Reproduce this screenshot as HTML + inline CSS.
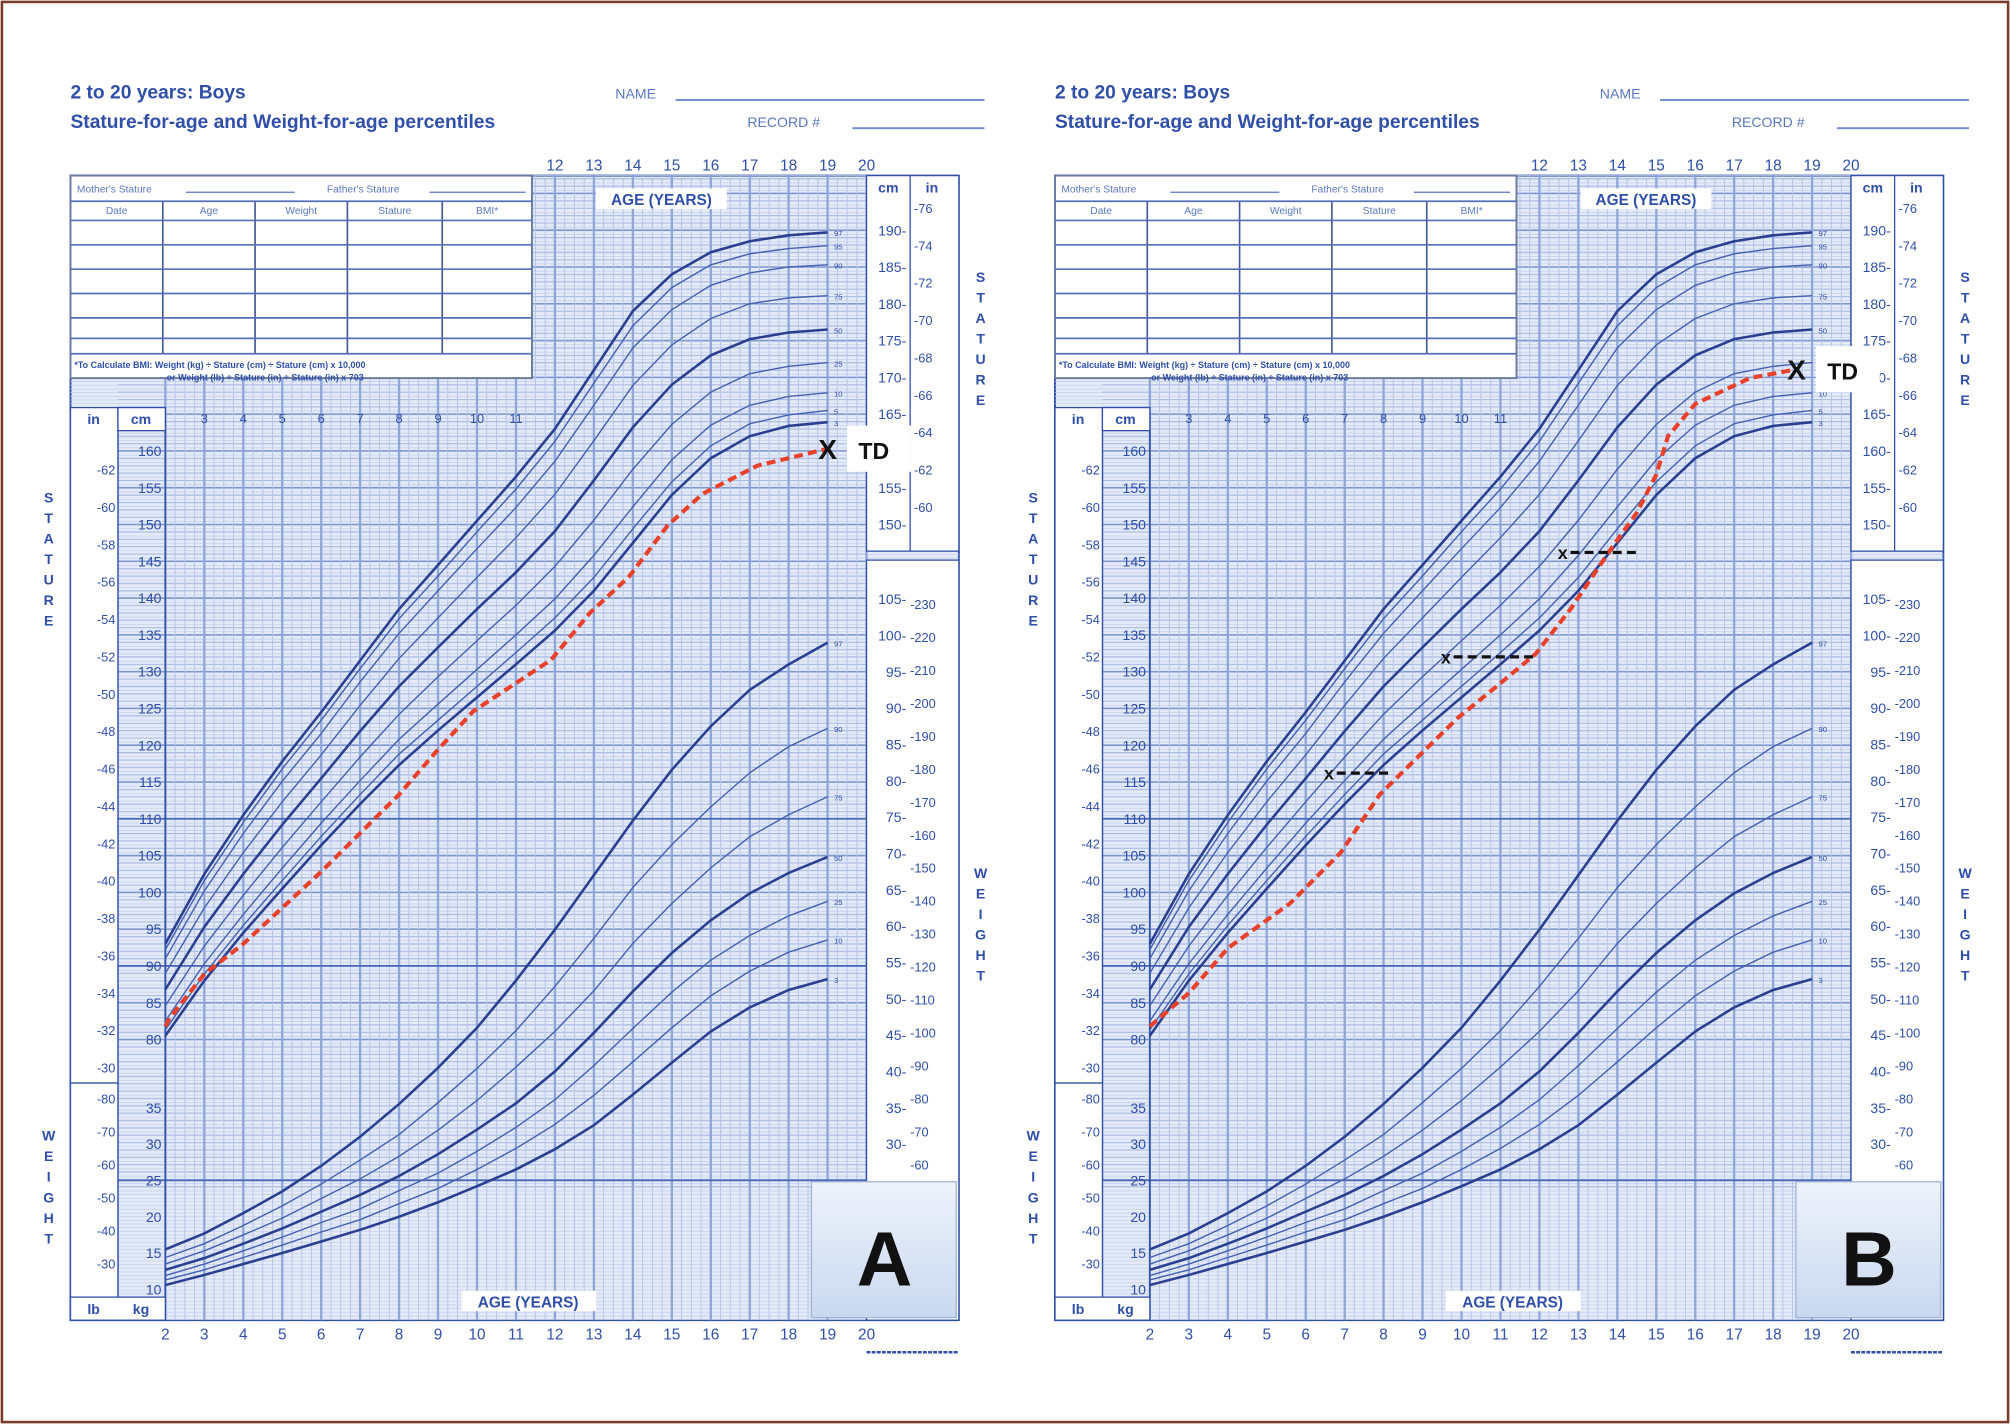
<!DOCTYPE html>
<html><head><meta charset="utf-8"><style>
html,body{margin:0;padding:0;background:#fff}
svg{display:block}
text{font-family:"Liberation Sans",sans-serif}
</style></head><body>
<svg id="chart" width="2010" height="1424" viewBox="0 0 1568 1111" preserveAspectRatio="none" xmlns="http://www.w3.org/2000/svg">
<rect x="1.5" y="1.5" width="1565" height="1108" fill="#fff" stroke="#7a3a2a" stroke-width="2"/>
<g id="root"></g>
</svg>
<script>
// ----- data -----
const ages=[2,3,4,5,6,7,8,9,10,11,12,13,14,15,16,17,18,19];
const staturePercentiles=[3,5,10,25,50,75,90,95,97];
const statP3=[80.5,88,94.5,100.5,106.4,112,117.3,122,126.5,131,135.6,141,147.5,154,159,162,163.4,163.9];
const statP5=[81.3,88.9,95.5,101.6,107.6,113.3,118.8,123.4,128,132.6,137.3,142.8,149.4,155.8,160.7,163.7,164.9,165.5];
const statP10=[82.5,90.3,97,103.3,109.4,115.2,120.8,125.6,130.3,135,139.9,145.8,152.4,158.8,163.5,166.2,167.4,167.9];
const statP25=[84.6,92.7,99.6,106.1,112.3,118.4,124.2,129.3,134.2,139,144.3,150.6,157.5,163.6,168,170.5,171.5,172];
const statP50=[86.8,95.3,102.5,109.2,115.5,121.9,128,133.3,138.5,143.5,149.1,156,163.2,169,173,175.2,176.1,176.5];
const statP75=[89,97.9,105.4,112.3,118.7,125.4,131.8,137.3,142.8,148.2,154.1,161.4,168.9,174.4,178,180,180.8,181.1];
const statP90=[91,100.2,108,115.1,121.6,128.6,135.2,141,146.7,152.3,158.6,166.2,174,179.2,182.5,184.2,185,185.3];
const statP95=[92.2,101.6,109.5,116.8,123.4,130.4,137.2,143,149,154.8,161.3,169.2,177,182.2,185.3,186.8,187.5,187.9];
const statP97=[93,102.5,110.5,117.8,124.5,131.5,138.5,144.5,150.5,156.5,163,171,179,184,187,188.5,189.3,189.7];
const weightPercentiles=[3,10,25,50,75,90,97];
const wtP3=[10.6,12,13.5,15,16.6,18.2,20,22,24.2,26.5,29.3,32.6,36.8,41.2,45.5,48.8,51.2,52.7];
const wtP10=[11.3,12.7,14.4,16.1,17.9,19.6,21.8,23.9,26.5,29.4,32.7,36.7,41.3,46,50.4,53.8,56.4,58.1];
const wtP25=[11.9,13.5,15.3,17.2,19.2,21.1,23.6,26,29,32.3,36.1,40.8,45.9,50.9,55.3,58.7,61.4,63.4];
const wtP50=[12.7,14.3,16.3,18.4,20.7,23,25.6,28.6,32,35.6,40,45.3,51,56.3,60.8,64.5,67.3,69.5];
const wtP75=[13.5,15.3,17.5,19.8,22.5,25.2,28.3,31.9,36,40.6,45.5,51.1,57.6,63.1,68,72.3,75.3,77.8];
const wtP90=[14.4,16.3,18.8,21.5,24.5,27.8,31.3,35.7,40.4,45.6,51.7,58.3,65.3,71.2,76.4,81.1,84.7,87.2];
const wtP97=[15.5,17.7,20.5,23.5,27,31,35.5,40.5,46,52.5,59.5,67,74.5,81.5,87.5,92.5,96,99];
const patientAAges=[2,2.1,3,4,6,8,9,9.9,11.9,12.9,13.9,14.9,15.8,17.2,19];
const patientAStature=[81.8,82.8,88.9,93,102.8,113.3,119.4,124.6,131.6,138,142.9,149.9,154.2,158,160.3];
const patientBAges=[2,3,4,5.6,6.9,7.9,8.9,9.9,10.9,11.9,12.8,13.8,14.5,15,15.3,16,17.4,18.6];
const patientBStature=[81.8,86.3,92.4,98.5,105.4,113.3,118.5,123.7,128,132.4,138.5,146.4,151.6,156.8,162,166.4,169.9,171.1];
const boneAgeFrom=[6.6,9.6,12.6];
const boneAgeTo=[8.2,11.9,14.5];
const boneAgeStature=[116.2,132,146.2];
const statTicksCm=[80,85,90,95,100,105,110,115,120,125,130,135,140,145,150,155,160];
const statTicksIn=[30,32,34,36,38,40,42,44,46,48,50,52,54,56,58,60,62];
const upperCm=[150,155,160,165,170,175,180,185,190];
const upperIn=[60,62,64,66,68,70,72,74,76];
const wtTicksKg=[30,35,40,45,50,55,60,65,70,75,80,85,90,95,100,105];
const wtTicksLb=[60,70,80,90,100,110,120,130,140,150,160,170,180,190,200,210,220,230];
const lowKg=[10,15,20,25,30,35];
const lowLb=[30,40,50,60,70,80];
const topAges=[12,13,14,15,16,17,18,19,20];
const bottomAges=[2,3,4,5,6,7,8,9,10,11,12,13,14,15,16,17,18,19,20];

const NS="http://www.w3.org/2000/svg";
const root=document.getElementById('root');
function el(tag,attrs,parent,txt){const e=document.createElementNS(NS,tag);for(const k in attrs)e.setAttribute(k,attrs[k]);if(txt!==undefined)e.textContent=txt;(parent||root).appendChild(e);return e;}
const BLUE="#2f4fa8",GRID="#8ea6d8",DARK="#2a3f8f";
function ageX(a,dx){return 129+dx+(a-2)*30.39;}
function cmY(c){return 811-(c-80)*5.74;}
function kgY(k){return 1006-(k-10)*5.67;}
function lbY(l){return kgY(l/2.2046);}
function inY(i){return cmY(i*2.54);}

function panel(dx,letter,patAges,patStat,showBone){
  const g=el('g',{},root);
  
  
  // titles
  const t1=el('text',{x:55+dx,y:77,fill:BLUE,'font-size':15,'font-weight':'bold'},g,'2 to 20 years: Boys');
  
  const t2=el('text',{x:55+dx,y:100,fill:BLUE,'font-size':15,'font-weight':'bold'},g,'Stature-for-age and Weight-for-age percentiles');
  
  el('text',{x:480+dx,y:77,fill:'#5a78c0','font-size':11},g,'NAME');
  const n=el('line',{x1:527+dx,y1:78,x2:768+dx,y2:78,stroke:'#6f8cd0','stroke-width':1.5},g);
  
  el('text',{x:583+dx,y:99,fill:'#5a78c0','font-size':11},g,'RECORD #');
  const r=el('line',{x1:665+dx,y1:100,x2:768+dx,y2:100,stroke:'#6f8cd0','stroke-width':1.5},g);
  
  // plot background
  el('rect',{x:55+dx,y:137,width:693,height:893,fill:'#e4eaf7',stroke:BLUE,'stroke-width':1.5},g);
  // fine horizontal grid
  let gl='';
  for(let y=137;y<=1030;y+=2.87){gl+=`M${55+dx} ${y.toFixed(1)}H${748+dx}`;}
  el('path',{d:gl,stroke:'#c5d2ee','stroke-width':0.6,fill:'none'},g);
  let gh='';
  for(let c=60;c<=200;c+=1){const y=cmY(c);if(y>137&&y<1030)gh+=`M${92+dx} ${y.toFixed(1)}H${676+dx}`;}
  el('path',{d:gh,stroke:'#a9bce4','stroke-width':0.7,fill:'none'},g);
  let g5='';
  for(let c=80;c<=200;c+=5){const y=cmY(c);if(y>137&&y<1030)g5+=`M${92+dx} ${y.toFixed(1)}H${676+dx}`;}
  el('path',{d:g5,stroke:'#7f97cf','stroke-width':1.2,fill:'none'},g);
  // vertical grid
  let gv='';
  for(let a=2;a<=20.01;a+=0.25){gv+=`M${ageX(a,dx).toFixed(1)} 137V1030`;}
  el('path',{d:gv,stroke:'#b3c3e8','stroke-width':0.7,fill:'none'},g);
  let gy='';
  for(let a=2;a<=20;a+=1){gy+=`M${ageX(a,dx).toFixed(1)} 137V1030`;}
  el('path',{d:gy,stroke:GRID,'stroke-width':1.8,fill:'none'},g);
  // heavy lines
  [110,90].forEach(c=>el('line',{x1:92+dx,x2:748+dx,y1:cmY(c),y2:cmY(c),stroke:'#4a68b8','stroke-width':1.4},g));
  el('line',{x1:55+dx,x2:676+dx,y1:kgY(25),y2:kgY(25),stroke:'#4a68b8','stroke-width':1.4},g);
  // left axis columns
  el('line',{x1:92+dx,x2:92+dx,y1:318,y2:1030,stroke:BLUE,'stroke-width':1.2},g);
  el('line',{x1:129+dx,x2:129+dx,y1:318,y2:1030,stroke:BLUE,'stroke-width':1.2},g);
  el('rect',{x:55+dx,y:318,width:37,height:527,fill:'#fff',stroke:BLUE,'stroke-width':1},g);
  el('rect',{x:55+dx,y:845,width:37,height:185,fill:'#fff',stroke:BLUE,'stroke-width':1},g);
  el('rect',{x:92+dx,y:318,width:37,height:18,fill:'#fff',stroke:BLUE,'stroke-width':1},g);
  el('rect',{x:55+dx,y:1012,width:74,height:18,fill:'#fff',stroke:BLUE,'stroke-width':1},g);
  el('text',{x:73+dx,y:331,'font-size':11,fill:BLUE,'text-anchor':'middle','font-weight':'bold'},g,'in');
  el('text',{x:110+dx,y:331,'font-size':11,fill:BLUE,'text-anchor':'middle','font-weight':'bold'},g,'cm');
  el('text',{x:73+dx,y:1025,'font-size':11,fill:BLUE,'text-anchor':'middle','font-weight':'bold'},g,'lb');
  el('text',{x:110+dx,y:1025,'font-size':11,fill:BLUE,'text-anchor':'middle','font-weight':'bold'},g,'kg');
  statTicksCm.forEach(c=>{el('text',{x:126+dx,y:cmY(c)+4,'font-size':11,fill:BLUE,'text-anchor':'end'},g,String(c));});
  statTicksIn.forEach(i=>{el('text',{x:90+dx,y:inY(i)+4,'font-size':10,fill:BLUE,'text-anchor':'end'},g,'-'+i);});
  lowKg.forEach(k=>{el('text',{x:126+dx,y:kgY(k)+4,'font-size':11,fill:BLUE,'text-anchor':'end'},g,String(k));});
  lowLb.forEach(l=>{el('text',{x:90+dx,y:lbY(l)+4,'font-size':10,fill:BLUE,'text-anchor':'end'},g,'-'+l);});
  'STATURE'.split('').forEach((ch,i)=>el('text',{x:38+dx,y:392+i*16,'font-size':11,'font-weight':'bold',fill:BLUE,'text-anchor':'middle'},g,ch));
  'WEIGHT'.split('').forEach((ch,i)=>el('text',{x:38+dx,y:890+i*16,'font-size':11,'font-weight':'bold',fill:BLUE,'text-anchor':'middle'},g,ch));
  // right columns
  el('rect',{x:676+dx,y:137,width:72,height:293,fill:'#fff',stroke:BLUE,'stroke-width':1},g);
  el('rect',{x:676+dx,y:437,width:72,height:593,fill:'#fff',stroke:BLUE,'stroke-width':1},g);
  el('line',{x1:710+dx,x2:710+dx,y1:137,y2:430,stroke:BLUE,'stroke-width':1},g);
  el('text',{x:693+dx,y:150,'font-size':11,'font-weight':'bold',fill:BLUE,'text-anchor':'middle'},g,'cm');
  el('text',{x:727+dx,y:150,'font-size':11,'font-weight':'bold',fill:BLUE,'text-anchor':'middle'},g,'in');
  upperCm.forEach(c=>el('text',{x:707+dx,y:cmY(c)+4,'font-size':11,fill:BLUE,'text-anchor':'end'},g,c+'-'));
  upperIn.forEach(i=>el('text',{x:713+dx,y:inY(i)+4,'font-size':10,fill:BLUE},g,'-'+i));
  wtTicksKg.forEach(k=>el('text',{x:707+dx,y:kgY(k)+4,'font-size':11,fill:BLUE,'text-anchor':'end'},g,k+'-'));
  wtTicksLb.forEach(l=>el('text',{x:710+dx,y:lbY(l)+4,'font-size':10,fill:BLUE},g,'-'+l));
  'STATURE'.split('').forEach((ch,i)=>el('text',{x:765+dx,y:220+i*16,'font-size':11,'font-weight':'bold',fill:BLUE,'text-anchor':'middle'},g,ch));
  'WEIGHT'.split('').forEach((ch,i)=>el('text',{x:765+dx,y:685+i*16,'font-size':11,'font-weight':'bold',fill:BLUE,'text-anchor':'middle'},g,ch));
  // age labels
  topAges.forEach(a=>el('text',{x:ageX(a,dx),y:133,'font-size':12,fill:BLUE,'text-anchor':'middle'},g,String(a)));
  bottomAges.forEach(a=>el('text',{x:ageX(a,dx),y:1045,'font-size':12,fill:BLUE,'text-anchor':'middle'},g,String(a)));
  [3,4,5,6,7,8,9,10,11].forEach(a=>el('text',{x:ageX(a,dx),y:330,'font-size':10,fill:BLUE,'text-anchor':'middle'},g,String(a)));
  el('rect',{x:465+dx,y:147,width:102,height:16,fill:'#fff'},g);
  el('text',{x:516+dx,y:160,'font-size':12,'font-weight':'bold',fill:BLUE,'text-anchor':'middle'},g,'AGE (YEARS)');
  el('rect',{x:360+dx,y:1007,width:105,height:16,fill:'#fff'},g);
  el('text',{x:412+dx,y:1020,'font-size':12,'font-weight':'bold',fill:BLUE,'text-anchor':'middle'},g,'AGE (YEARS)');
  el('line',{x1:676+dx,x2:748+dx,y1:1055,y2:1055,stroke:BLUE,'stroke-width':2,'stroke-dasharray':'3 1'},g);
  // percentile curves
  function curve(arr,yf,bold,name){
    const d=arr.map((v,i)=>(i?'L':'M')+ageX(ages[i],dx).toFixed(1)+' '+yf(v).toFixed(1)).join('');
    const p=el('path',{d:d,fill:'none',stroke:bold?DARK:'#4560b0','stroke-width':bold?2:1.1},g);
    
    
  }
  const sAll=[statP3,statP5,statP10,statP25,statP50,statP75,statP90,statP95,statP97];
  sAll.forEach((arr,i)=>curve(arr,cmY,[3,50,97].includes(staturePercentiles[i]),'stature-p'+staturePercentiles[i]));
  const wAll=[wtP3,wtP10,wtP25,wtP50,wtP75,wtP90,wtP97];
  wAll.forEach((arr,i)=>curve(arr,kgY,[3,50,97].includes(weightPercentiles[i]),'weight-p'+weightPercentiles[i]));
  sAll.forEach((arr,i)=>el('text',{x:ageX(19,dx)+5,y:cmY(arr[arr.length-1])+3,'font-size':6,fill:BLUE},g,String(staturePercentiles[i])));
  wAll.forEach((arr,i)=>el('text',{x:ageX(19,dx)+5,y:kgY(arr[arr.length-1])+3,'font-size':6,fill:BLUE},g,String(weightPercentiles[i])));
  // record table
  const tb=el('g',{},g);
  
  el('rect',{x:55+dx,y:137,width:360,height:158,fill:'#fff',stroke:'#6a7aa0','stroke-width':1.5},tb);
  el('text',{x:60+dx,y:150,'font-size':8,fill:'#5a78c0'},tb,"Mother's Stature");
  el('line',{x1:145+dx,x2:230+dx,y1:150,y2:150,stroke:'#5a78c0'},tb);
  el('text',{x:255+dx,y:150,'font-size':8,fill:'#5a78c0'},tb,"Father's Stature");
  el('line',{x1:335+dx,x2:410+dx,y1:150,y2:150,stroke:'#5a78c0'},tb);
  const cols=[55,127,199,271,345,415];const hd=['Date','Age','Weight','Stature','BMI*'];
  hd.forEach((h,i)=>el('text',{x:(cols[i]+cols[i+1])/2+dx,y:167,'font-size':8,fill:'#5a78c0','text-anchor':'middle'},tb,h));
  for(let i=1;i<5;i++)el('line',{x1:cols[i]+dx,x2:cols[i]+dx,y1:157,y2:276,stroke:'#445a90','stroke-width':1.3},tb);
  [157,172,191,210,229,248,264,276].forEach(y=>el('line',{x1:55+dx,x2:415+dx,y1:y,y2:y,stroke:'#5570b8','stroke-width':1.3},tb));
  el('text',{x:58+dx,y:287,'font-size':7,fill:BLUE,'font-weight':'bold'},tb,'*To Calculate BMI: Weight (kg) ÷ Stature (cm) ÷ Stature (cm) x 10,000');
  el('text',{x:130+dx,y:297,'font-size':7,fill:BLUE,'font-weight':'bold'},tb,'or Weight (lb) ÷ Stature (in) ÷ Stature (in) x 703');
  // patient
  const pd=patAges.map((a,i)=>(i?'L':'M')+ageX(a,dx).toFixed(1)+' '+cmY(patStat[i]).toFixed(1)).join('');
  const pl=el('path',{d:pd,fill:'none',stroke:'#e8402a','stroke-width':3.2,'stroke-dasharray':'7 4'},g);
  
  const lx=ageX(patAges[patAges.length-1],dx),ly=cmY(patStat[patStat.length-1]);
  el('rect',{x:lx+15,y:ly-18,width:50,height:36,fill:'#fff'},g);
  el('text',{x:lx,y:ly+8,'font-size':22,'font-weight':'bold','text-anchor':'middle',fill:'#111'},g,'X');
  const td=el('text',{x:lx+24,y:ly+8,'font-size':18,'font-weight':'bold',fill:'#111'},g,'TD');
  
  if(showBone){
    boneAgeFrom.forEach((a,i)=>{
      const y=cmY(boneAgeStature[i]);
      const ln=el('line',{x1:ageX(a,dx)+6,x2:ageX(boneAgeTo[i],dx),y1:y,y2:y,stroke:'#111','stroke-width':2.5,'stroke-dasharray':'7 4'},g);
      
      el('text',{x:ageX(a,dx),y:y+5,'font-size':14,'font-weight':'bold','text-anchor':'middle',fill:'#111'},g,'x');
    });
  }
  // letter box
  const defs=el('defs',{},g);
  const lg=el('linearGradient',{id:'lg'+letter,x1:0,y1:0,x2:0,y2:1},defs);
  el('stop',{offset:0,'stop-color':'#eef3fb'},lg);el('stop',{offset:1,'stop-color':'#c9d8ef'},lg);
  const bx=el('rect',{x:633+dx,y:922,width:113,height:106,fill:'url(#lg'+letter+')',stroke:'#9fb3d8'},g);
  
  el('text',{x:690+dx,y:1003,'font-size':60,'font-weight':'bold','text-anchor':'middle',fill:'#111'},g,letter);
}
panel(0,'A',patientAAges,patientAStature,false);
panel(768,'B',patientBAges,patientBStature,true);
</script>
</body></html>
